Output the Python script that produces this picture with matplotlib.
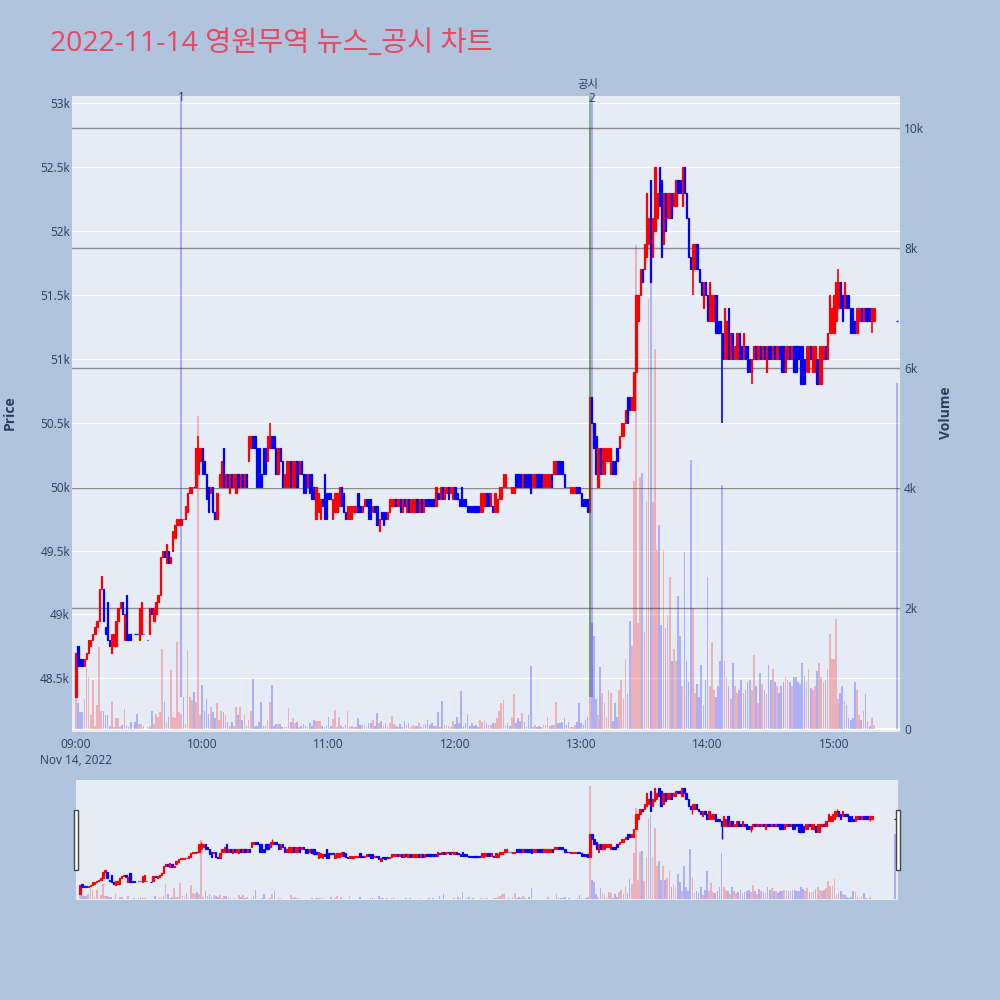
import matplotlib
matplotlib.use("Agg")
import matplotlib.pyplot as plt
from matplotlib.patches import Rectangle
from matplotlib.colors import to_rgba

plt.rcParams['font.family'] = ['Open Sans', 'Noto Sans CJK KR', 'DejaVu Sans']

TITLE = "2022-11-14 영원무역 뉴스_공시 차트"

# one entry per minute from 09:00 (index 0) to 15:30 (index 390); None = no trade
open_ = [
    48350, 48750, 48650, 48650, 48600, 48650, 48700, 48750, 48800, 48850,
    48900, 48950, 49200, 49200, 48900, 49100, 48800, 48700, 48750, 48750,
    48950, 49050, 49100, 48800, 49150, 48850, 48850, None, 48850, 48850,
    48800, 48850, 48850, None, 48800, 48850, 49050, 48950, 49000, 49100,
    49150, 49450, 49500, 49400, 49500, 49400, 49500, 49600, 49700, 49700,
    49700, 49750, 49750, 49800, 49950, 49950, 50000, 50000, 50100, 50200,
    50300, 50200, 50100, 50000, 49950, 50000, 49800, 49750, 50000, 50000,
    50300, 50000, 50100, 49950, 50100, 50000, 49950, 50100, 50000, 50100,
    50000, 50100, 50200, 50300, 50400, 50400, 50300, 50300, 50100, 50300,
    50300, 50200, 50300, 50400, 50400, 50300, 50100, 50300, 50200, 50000,
    50000, 50000, 50200, 50000, 50000, 50200, 50100, 50200, 50100, 50100,
    50000, 50100, 50100, 50000, 49750, 49800, 49750, 49900, 50100, 49950,
    49950, 49950, 49750, 49800, 49800, 49850, 50000, 49950, 49800, 49750,
    49750, 49750, 49800, 49800, 49950, 49850, 49800, 49850, 49900, 49900,
    49900, 49800, 49850, 49850, 49650, 49800, 49800, 49800, 49750, 49800,
    49850, 49850, 49900, 49850, 49900, 49800, 49900, 49800, 49900, 49800,
    49800, 49800, 49900, 49800, 49900, 49800, 49900, 49900, 49900, 49900,
    49900, 49850, 49950, 49900, 50000, 49900, 49950, 50000, 49950, 49900,
    50000, 49950, 49900, 50000, 49900, 49900, 49850, 49850, 49850, 49850,
    49850, 49850, 49800, 49800, 49850, 49950, 49950, 49850, 49850, 49800,
    49800, 49900, 49900, 50000, 50000, 50000, 50000, 49950, 49950, 50100,
    50100, 50100, 50000, 50100, 50100, 50100, 50100, 50000, 50000, 50100,
    50100, 50100, 50000, 50000, 50000, 50000, 50100, 50100, 50100, 50200,
    50200, 50200, 50100, 50000, 50000, 49950, 49950, 49950, 50000, 50000,
    49950, 49900, 49900, 49900, 49800, 50700, 50500, 50400, 50000, 50300,
    50100, 50100, 50200, 50200, 50100, 50200, 50200, 50300, 50300, 50400,
    50400, 50500, 50700, 50700, 50600, 50600, 50900, 51300, 51500, 51700,
    51700, 51800, 51900, 52400, 51800, 52000, 52100, 52500, 52400, 51900,
    52300, 52100, 52100, 52300, 52200, 52200, 52400, 52400, 52200, 52500,
    52300, 52100, 51800, 51700, 51700, 51900, 51700, 51600, 51400, 51600,
    51500, 51300, 51300, 51300, 51500, 51300, 51300, 51200, 51000, 51000,
    51400, 51000, 51200, 51000, 51000, 51200, 51100, 51000, 51100, 51100,
    51000, 50900, 51000, 51100, 51000, 51100, 51000, 51100, 50900, 51100,
    51100, 51000, 51100, 51000, 51100, 51100, 51100, 50900, 51000, 51100,
    51000, 51100, 51100, 51100, 51100, 51100, 51000, 50900, 50900, 51100,
    50900, 50900, 51000, 50800, 50800, 51000, 51100, 51000, 51200, 51200,
    51200, 51300, 51400, 51600, 51500, 51400, 51500, 51500, 51400, 51400,
    51300, 51200, 51300, 51400, 51300, 51400, 51400, 51400, 51300, 51300,
    None, None, None, None, None, None, None, None, None, None,
    51300,
]

close = [
    48700, 48600, 48600, 48600, 48650, 48700, 48800, 48800, 48850, 48900,
    48950, 49200, 49300, 48950, 48850, 48800, 48750, 48850, 48850, 48950,
    49050, 49100, 49000, 49000, 48800, 48800, 48800, None, 48850, 48850,
    49050, 49100, 48850, None, 48800, 49050, 49000, 49050, 49100, 49150,
    49450, 49500, 49450, 49550, 49400, 49450, 49650, 49700, 49750, 49750,
    49750, 49750, 49850, 49950, 50000, 50000, 50000, 50300, 50300, 50300,
    50100, 50100, 49900, 49800, 50000, 49800, 49750, 49950, 50100, 50200,
    50000, 50100, 50000, 50100, 50000, 50100, 50100, 50000, 50100, 50000,
    50100, 50000, 50400, 50400, 50300, 50300, 50000, 50000, 50000, 50100,
    50100, 50400, 50400, 50300, 50300, 50100, 50300, 50200, 50000, 50100,
    50200, 50200, 50000, 50200, 50200, 50000, 50200, 50100, 49950, 49950,
    50100, 49950, 49900, 49900, 50000, 49950, 49900, 49850, 49750, 49750,
    49900, 49900, 49900, 49950, 49950, 50000, 49850, 49800, 49750, 49850,
    49850, 49850, 49850, 49850, 49800, 49800, 49850, 49900, 49850, 49750,
    49750, 49850, 49800, 49700, 49750, 49750, 49700, 49750, 49800, 49900,
    49900, 49900, 49850, 49900, 49800, 49900, 49850, 49900, 49800, 49900,
    49900, 49900, 49800, 49900, 49800, 49900, 49850, 49850, 49850, 49850,
    49850, 50000, 49900, 50000, 49900, 50000, 50000, 49900, 50000, 50000,
    49900, 49900, 49850, 49850, 49850, 49850, 49800, 49800, 49800, 49800,
    49800, 49800, 49950, 49950, 49950, 49850, 49850, 49950, 49800, 49950,
    49900, 50000, 50000, 50100, 50100, 50000, 50000, 50000, 50000, 50000,
    50000, 50000, 50100, 50000, 50000, 50000, 49950, 50100, 50100, 50000,
    50000, 50000, 50100, 50100, 50100, 50100, 50000, 50200, 50200, 50100,
    50100, 50100, 50000, 50000, 50000, 50000, 50000, 50000, 49950, 49950,
    49850, 49850, 49850, 49800, 50700, 50500, 50300, 50100, 50300, 50100,
    50300, 50300, 50300, 50300, 50300, 50100, 50100, 50200, 50400, 50500,
    50500, 50600, 50500, 50600, 50700, 50900, 51500, 51500, 51700, 51600,
    51900, 52300, 52100, 51600, 52100, 52500, 52300, 52200, 51800, 52300,
    52000, 52300, 52300, 52100, 52300, 52400, 52300, 52300, 52500, 52300,
    52100, 51800, 51700, 51900, 51900, 51700, 51600, 51500, 51600, 51500,
    51300, 51600, 51500, 51500, 51200, 51200, 51200, 51000, 51400, 51300,
    51000, 51200, 51000, 51100, 51200, 51000, 51000, 51200, 51000, 50900,
    50900, 51000, 51100, 51000, 51100, 51000, 51100, 51000, 51100, 51000,
    51000, 51100, 51000, 51100, 51000, 50900, 50900, 51100, 51100, 51000,
    51100, 50900, 50900, 51000, 50800, 50800, 50800, 51100, 51100, 51000,
    51100, 51100, 50800, 51100, 51100, 51100, 51000, 51200, 51500, 51400,
    51500, 51600, 51600, 51400, 51300, 51600, 51400, 51400, 51200, 51200,
    51200, 51400, 51400, 51300, 51400, 51300, 51300, 51300, 51400, 51400,
    None, None, None, None, None, None, None, None, None, None,
    51300,
]

volume = [
    600, 420, 280, 280, 500, 1030, 860, 220, 800, 40,
    390, 1360, 300, 300, 220, 220, 50, 440, 30, 170,
    170, 30, 60, 330, 40, 30, 110, 0, 110, 250,
    80, 80, 40, 0, 20, 40, 300, 73, 250, 190,
    280, 1330, 440, 110, 190, 970, 190, 170, 1440, 280,
    250, 530, 80, 1300, 530, 470, 610, 440, 5200, 220,
    720, 300, 500, 250, 360, 280, 170, 420, 140, 300,
    280, 220, 110, 50, 110, 50, 360, 220, 360, 140,
    250, 50, 140, 300, 830, 50, 50, 110, 440, 50,
    50, 140, 440, 720, 50, 80, 80, 70, 20, 20,
    20, 340, 110, 170, 95, 110, 30, 40, 70, 40,
    20, 95, 50, 150, 130, 130, 130, 40, 20, 40,
    190, 40, 160, 310, 30, 190, 40, 20, 60, 300,
    20, 50, 20, 20, 170, 60, 60, 60, 20, 85,
    95, 140, 40, 260, 95, 120, 40, 85, 40, 85,
    210, 70, 40, 30, 70, 20, 130, 55, 85, 30,
    65, 40, 40, 95, 20, 65, 70, 140, 55, 85,
    50, 40, 270, 20, 460, 55, 65, 40, 20, 120,
    70, 190, 95, 620, 40, 85, 240, 50, 95, 40,
    55, 20, 150, 110, 140, 85, 65, 65, 85, 85,
    170, 290, 430, 480, 40, 85, 50, 200, 570, 85,
    170, 120, 260, 110, 20, 230, 1040, 20, 55, 20,
    45, 20, 55, 55, 190, 40, 55, 55, 440, 85,
    85, 110, 180, 55, 110, 20, 20, 55, 110, 420,
    85, 55, 140, 200, 10000, 1750, 1540, 500, 220, 1020,
    600, 430, 190, 640, 600, 120, 430, 190, 640, 810,
    500, 1160, 570, 1790, 1370, 4120, 8050, 1750, 4190, 4260,
    1610, 3770, 7150, 7420, 3770, 6310, 2970, 3390, 1720, 2970,
    1680, 1890, 2520, 1130, 1330, 1130, 2200, 1540, 710, 2930,
    1130, 780, 4470, 2000, 600, 740, 530, 1060, 400, 810,
    2520, 710, 1440, 640, 530, 710, 1130, 4050, 1130, 850,
    710, 500, 1090, 710, 600, 640, 810, 600, 640, 780,
    810, 640, 1230, 710, 430, 920, 740, 640, 570, 1060,
    810, 990, 780, 710, 600, 710, 780, 850, 810, 780,
    710, 850, 850, 780, 740, 1090, 880, 780, 990, 670,
    640, 710, 950, 1090, 850, 780, 810, 990, 1580, 1160,
    1160, 1820, 500, 600, 710, 460, 390, 180, 150, 180,
    780, 640, 220, 150, 290, 570, 120, 50, 180, 60,
    0, 0, 0, 0, 0, 0, 0, 0, 0, 0,
    5750,
]

# candles with visible wicks beyond the body
wick_minute = [58, 92, 293, 307, 321, 362, 378]
wick_high = [50400, 50500, 51900, 51200, 51000, 51700, 51400]
wick_low = [50100, 50300, 51500, 50500, 50800, 51400, 51200]

hour_ticks = [0, 60, 120, 180, 240, 300, 360]
hour_labels = ["09:00\nNov 14, 2022", "10:00", "11:00", "12:00", "13:00", "14:00", "15:00"]
price_ticks = [48500, 49000, 49500, 50000, 50500, 51000, 51500, 52000, 52500, 53000]
price_labels = ["48.5k", "49k", "49.5k", "50k", "50.5k", "51k", "51.5k", "52k", "52.5k", "53k"]
volume_ticks = [0, 2000, 4000, 6000, 8000, 10000]
volume_labels = ["0", "2k", "4k", "6k", "8k", "10k"]

event_minute = [50, 244.2, 245.2]
event_label = ["1", "공시", "2"]
event_color = ["blue", "green", "blue"]

FONT_C = "#2a3f5f"
BG = "#E5ECF6"
P0, P1 = 48080, 53057
V0, V1 = -57, 10526
X0, X1 = -1.9, 391.4
day_low = 48350

fig = plt.figure(figsize=(10, 10), dpi=100)
fig.patch.set_facecolor("#B0C4DE")


def px_axes(l, t, r, b):
    return fig.add_axes([l / 1000, 1 - b / 1000, (r - l) / 1000, (b - t) / 1000])


def draw_candles(a, body_w=0.62, lw=0.9, wick_lw=1.2):
    xs, bots, hts, cols, wx, wl, wh, wc = [], [], [], [], [], [], [], []
    for i, (o, c) in enumerate(zip(open_, close)):
        if o is None:
            continue
        col = "#ff0000" if c > o else "#0000ff"
        xs.append(i)
        bots.append(min(o, c))
        hts.append(abs(c - o))
        cols.append(col)
        if i in wick_minute:
            k = wick_minute.index(i)
            wx.append(i)
            wl.append(min(wick_low[k], o, c))
            wh.append(max(wick_high[k], o, c))
            wc.append(col)
    a.vlines(wx, wl, wh, colors=wc, lw=wick_lw, zorder=3)
    a.bar(xs, hts, bottom=bots, width=body_w, color=cols, edgecolor=cols,
          linewidth=lw, zorder=4)


def draw_volume(a):
    xs, vs, cols = [], [], []
    for i, v in enumerate(volume):
        if v <= 0:
            continue
        o, c = open_[i], close[i]
        base = "red" if (o is not None and c > o) else "blue"
        xs.append(i)
        vs.append(v)
        cols.append(to_rgba(base, 0.25))
    a.bar(xs, vs, width=0.8, color=cols, linewidth=0, zorder=2)


# ---------- main chart ----------
ax = px_axes(72, 96, 900, 732)
ax.set_facecolor(BG)
ax.set_xlim(X0, X1)
ax.set_ylim(P0, P1)
for s in ax.spines.values():
    s.set_visible(False)


def v2p(v):
    return P0 + (v - V0) * (P1 - P0) / (V1 - V0)


for p in price_ticks:
    ax.axhline(p, color="white", lw=1.0, zorder=0.5)
for v in volume_ticks[1:]:
    ax.axhline(v2p(v), color="#8c8c8c", lw=1.0, zorder=0.6)
ax.axhline(v2p(0), color="white", lw=1.3, zorder=0.6)

draw_candles(ax)

ax.set_yticks(price_ticks)
ax.set_yticklabels(price_labels)
ax.set_xticks(hour_ticks)
ax.set_xticklabels(hour_labels, linespacing=1.3)
ax.tick_params(axis="y", length=0, pad=1.5, labelsize=8.6, labelcolor=FONT_C)
ax.tick_params(axis="x", length=0, pad=4, labelsize=8.6, labelcolor=FONT_C)

ax2 = ax.twinx()
ax2.set_ylim(V0, V1)
ax2.set_xlim(X0, X1)
ax2.patch.set_visible(False)
for s in ax2.spines.values():
    s.set_visible(False)
draw_volume(ax2)
ax2.set_yticks(volume_ticks)
ax2.set_yticklabels(volume_labels)
ax2.tick_params(axis="y", length=0, pad=3, labelsize=8.6, labelcolor=FONT_C)

low_v = V0 + (day_low - P0) * (V1 - V0) / (P1 - P0)
for m, lab, col in zip(event_minute, event_label, event_color):
    a_ = 0.45 if col == "green" else 0.28
    ax2.vlines(m, low_v, V1, colors=[to_rgba(col, a_)], lw=1.4, zorder=6)

ax2.annotate("1", xy=(event_minute[0], 1.0), xycoords=("data", "axes fraction"),
             xytext=(0, -0.8), textcoords="offset points", ha="center", va="center",
             fontsize=8.6, color=FONT_C, zorder=7, annotation_clip=False)
ax2.annotate("공시", xy=(event_minute[1] - 1.0, 1.0), xycoords=("data", "axes fraction"),
             xytext=(0, 7.6), textcoords="offset points", ha="center", va="center",
             fontsize=8.2, color=FONT_C, zorder=7, annotation_clip=False)
ax2.annotate("2", xy=(event_minute[2], 1.0), xycoords=("data", "axes fraction"),
             xytext=(0, -1.6), textcoords="offset points", ha="center", va="center",
             fontsize=8.6, color=FONT_C, zorder=7, annotation_clip=False)

# ---------- range slider ----------
axs = px_axes(76, 780, 898, 900)
axs.set_facecolor(BG)
axs.set_xlim(X0, X1)
axs.set_ylim(48100, 52830)
axs.set_xticks([])
axs.set_yticks([])
for s in axs.spines.values():
    s.set_visible(False)
draw_candles(axs, body_w=0.62, lw=0.9, wick_lw=1.0)
axs2 = axs.twinx()
axs2.set_ylim(V0, V1)
axs2.set_xlim(X0, X1)
axs2.patch.set_visible(False)
axs2.set_yticks([])
for s in axs2.spines.values():
    s.set_visible(False)
draw_volume(axs2)

for hx in (73.5, 895.5):
    fig.add_artist(Rectangle((hx / 1000, 1 - 870 / 1000), 4 / 1000, 60 / 1000,
                             transform=fig.transFigure, facecolor="white",
                             edgecolor="#444444", lw=1.0, zorder=10))

# ---------- texts ----------
fig.text(50 / 1000, 1 - 51 / 1000, TITLE, fontsize=20.4, color="#E8475F",
         ha="left", va="baseline")
fig.text(10 / 1000, 1 - 413 / 1000, "Price", rotation=90, ha="center", va="center",
         fontsize=10, fontweight="bold", color=FONT_C)
fig.text(946 / 1000, 1 - 413 / 1000, "Volume", rotation=90, ha="center", va="center",
         fontsize=10, fontweight="bold", color=FONT_C)

fig.savefig("out.png", dpi=100, facecolor=fig.get_facecolor())
